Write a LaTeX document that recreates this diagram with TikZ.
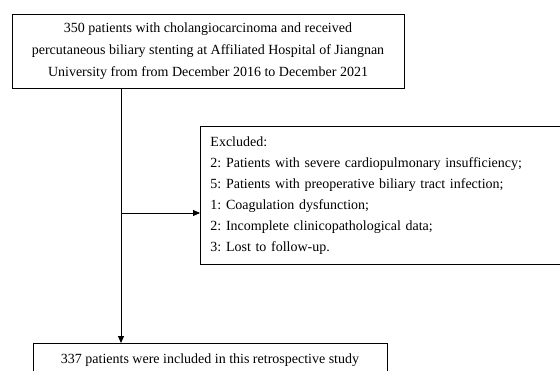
\documentclass[tikz,border=0pt]{standalone}
\usepackage{fontspec}
\setmainfont{Liberation Serif}
\usetikzlibrary{arrows.meta}
\frenchspacing
\begin{document}
\begin{tikzpicture}[x=1pt,y=-1pt,
  box/.style={draw,line width=0.9pt,inner sep=0pt,font=\fontsize{14}{22}\selectfont},
  conn/.style={line width=0.9pt},
  arr/.style={conn,-{Triangle[length=7pt,width=6pt]}}]
\clip (0,0) rectangle (560,370);
\node[box,minimum width=392pt,minimum height=74pt,align=center] (top) at (208,51)
  {350 patients with cholangiocarcinoma and received\\
   percutaneous biliary stenting at Affiliated Hospital of Jiangnan\\
   University from from December 2016 to December 2021};
\node[box,anchor=north west,minimum width=400pt,minimum height=138pt,align=left,text width=390pt,inner xsep=10pt,font=\fontsize{14}{21}\selectfont] (exc) at (200,126)
  {Excluded:\\
   2: Patients with severe cardiopulmonary insufficiency;\\
   5: Patients with preoperative biliary tract infection;\\
   1: Coagulation dysfunction;\\
   2: Incomplete clinicopathological data;\\
   3: Lost to follow-up.};
\node[box,anchor=north west,minimum width=354pt,minimum height=40pt] (bot) at (33,343) {};
\node[font=\fontsize{14}{22}\selectfont] (bottxt) at (210,360) {337 patients were included in this retrospective study};
\coordinate (split) at (121,213);
\draw[conn] (top.south -| split) -- (split);
\draw[arr] (split) -- (exc.west |- split);
\draw[arr] (split) -- (bot.north -| split);
\end{tikzpicture}
\end{document}
